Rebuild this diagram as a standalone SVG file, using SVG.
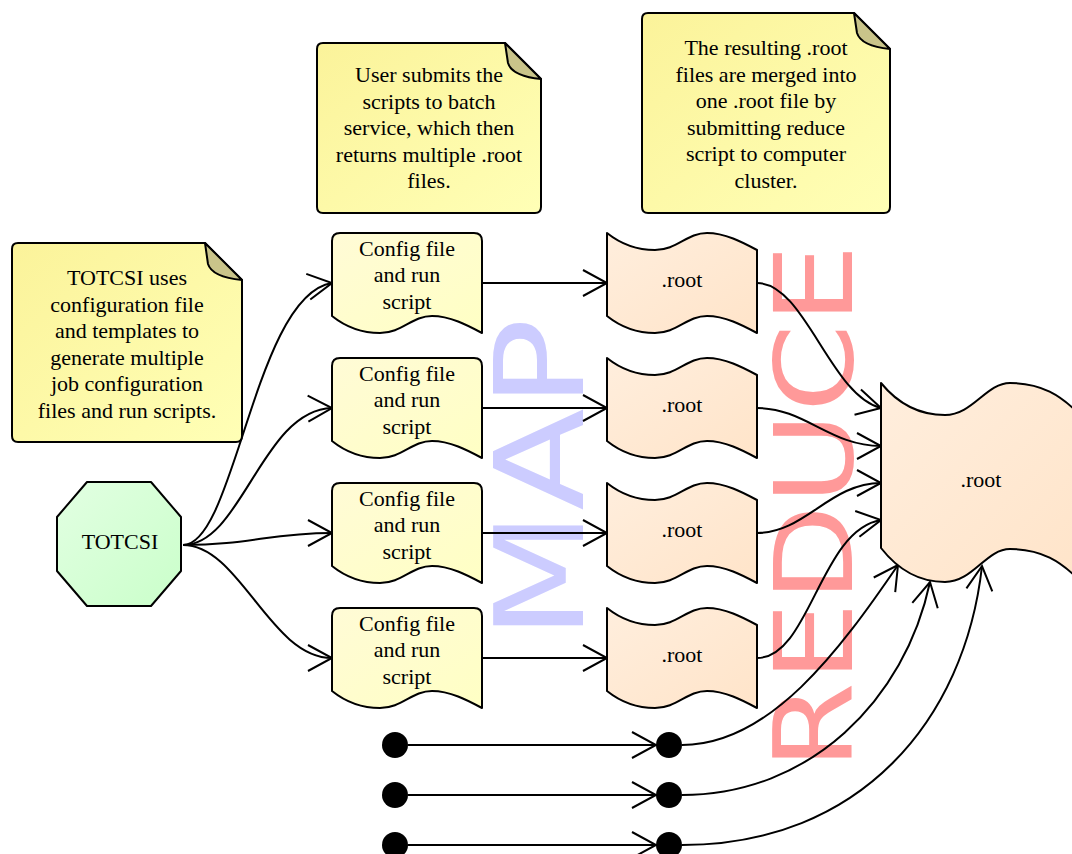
<svg xmlns="http://www.w3.org/2000/svg" xmlns:xlink="http://www.w3.org/1999/xlink" width="1072" height="854" viewBox="0 0 1072 854">
  <style>
    .t { font-family: "Liberation Serif", "Times New Roman", serif; font-size: 22px; text-anchor: middle; fill: #000; }
    .edge { fill: none; stroke: #000; stroke-width: 2; marker-end: url(#arrow); }
    .outline { stroke: #000; stroke-width: 2; stroke-linejoin: round; }
    .note { fill: url(#gNote); }
    .fold { fill: #c9c48a; stroke: #000; stroke-width: 2; stroke-linejoin: round; }
    .cfg { fill: url(#gCfg); }
    .root { fill: url(#gRoot); }
    .dot { fill: #000; }
    .phase { font-family: "DejaVu Sans", "Liberation Sans", sans-serif; }
  </style>
  <defs>
    <linearGradient id="gNote" x1="0" y1="0" x2="1" y2="1">
      <stop offset="0" stop-color="#fbf39a"/>
      <stop offset="1" stop-color="#ffffb6"/>
    </linearGradient>
    <linearGradient id="gCfg" x1="0" y1="0" x2="1" y2="1">
      <stop offset="0" stop-color="#fffbd6"/>
      <stop offset="1" stop-color="#ffffc4"/>
    </linearGradient>
    <linearGradient id="gRoot" x1="0" y1="0" x2="1" y2="1">
      <stop offset="0" stop-color="#ffeedd"/>
      <stop offset="1" stop-color="#ffe4c9"/>
    </linearGradient>
    <linearGradient id="gStart" x1="0" y1="0" x2="1" y2="1">
      <stop offset="0" stop-color="#e2ffe2"/>
      <stop offset="1" stop-color="#caffca"/>
    </linearGradient>
    <marker id="arrow" markerUnits="userSpaceOnUse" markerWidth="30" markerHeight="30" refX="25" refY="15" orient="auto" overflow="visible">
      <path d="M1,2 L25,15 L1,28" fill="none" stroke="#000" stroke-width="2"/>
    </marker>
    <!-- document shape: rounded top, wavy bottom -->
    <path id="cfgShape" d="M0,83 L0,8 Q0,0 8,0 L142,0 Q150,0 150,8 L150,100 C135,92 118,83 100,83 C80,83 70,100 48,100 C30,100 15,95 0,83 Z"/>
    <!-- data file shape: wavy top and bottom -->
    <path id="rootShape" d="M0,0 C15,12 30,17 48,17 C70,17 80,0 100,0 C118,0 135,9 150,17 L150,100 C135,92 118,83 100,83 C80,83 70,100 48,100 C30,100 15,95 0,83 Z"/>
  </defs>

  <!-- phase labels -->
  <g id="phases">
    <text class="phase" transform="translate(583,640) rotate(-90)" font-size="123" fill="#ccccff" textLength="322" lengthAdjust="spacingAndGlyphs">MAP</text>
    <text class="phase" transform="translate(852,770) rotate(-90)" font-size="108" fill="#ff9999" textLength="526" lengthAdjust="spacingAndGlyphs">REDUCE</text>
  </g>

  <!-- connectors -->
  <g id="connectors">
    <path class="edge" d="M183,545 C235,545 255,295 332,283"/>
    <path class="edge" d="M183,545 C242,545 262,410 332,408"/>
    <path class="edge" d="M183,545 C250,545 270,533 332,533"/>
    <path class="edge" d="M183,545 C240,545 270,658 332,658"/>

    <path class="edge" d="M482,283 L607,283"/>
    <path class="edge" d="M482,408 L607,408"/>
    <path class="edge" d="M482,533 L607,533"/>
    <path class="edge" d="M482,658 L607,658"/>

    <path class="edge" d="M757,283 C805,283 830,395 881,408"/>
    <path class="edge" d="M757,408 C805,408 830,446 881,446"/>
    <path class="edge" d="M757,533 C805,533 830,483 881,483"/>
    <path class="edge" d="M757,658 C810,658 820,530 881,520"/>

    <path class="edge" d="M408,745 L656,745"/>
    <path class="edge" d="M408,795 L656,795"/>
    <path class="edge" d="M408,845 L656,845"/>

    <path class="edge" d="M682,745 C770,745 840,650 898,565"/>
    <path class="edge" d="M682,795 C810,795 905,700 930,582"/>
    <path class="edge" d="M682,845 C860,845 965,720 982,566"/>
  </g>

  <!-- notes -->
  <g id="note-generate">
    <path class="note outline" d="M18,243 L205,243 L242,280 L242,436 Q242,442 236,442 L18,442 Q12,442 12,436 L12,249 Q12,243 18,243 Z"/>
    <path class="fold" d="M205,243 L208,264 Q212,277 242,280 Z"/>
    <text class="t" x="127" y="285">TOTCSI uses</text>
    <text class="t" x="127" y="311.5">configuration file</text>
    <text class="t" x="127" y="338">and templates to</text>
    <text class="t" x="127" y="364.5">generate multiple</text>
    <text class="t" x="127" y="391">job configuration</text>
    <text class="t" x="127" y="417.5">files and run scripts.</text>
  </g>
  <g id="note-submit">
    <path class="note outline" d="M323,43 L505,43 L541,79 L541,207 Q541,213 535,213 L323,213 Q317,213 317,207 L317,49 Q317,43 323,43 Z"/>
    <path class="fold" d="M505,43 L508,63 Q512,76 541,79 Z"/>
    <text class="t" x="429" y="82">User submits the</text>
    <text class="t" x="429" y="108.5">scripts to batch</text>
    <text class="t" x="429" y="135">service, which then</text>
    <text class="t" x="429" y="161.5">returns multiple .root</text>
    <text class="t" x="429" y="188">files.</text>
  </g>
  <g id="note-reduce">
    <path class="note outline" d="M648,13 L854,13 L890,49 L890,207 Q890,213 884,213 L648,213 Q642,213 642,207 L642,19 Q642,13 648,13 Z"/>
    <path class="fold" d="M854,13 L857,33 Q861,46 890,49 Z"/>
    <text class="t" x="766" y="55">The resulting .root</text>
    <text class="t" x="766" y="81.5">files are merged into</text>
    <text class="t" x="766" y="108">one .root file by</text>
    <text class="t" x="766" y="134.5">submitting reduce</text>
    <text class="t" x="766" y="161">script to computer</text>
    <text class="t" x="766" y="187.5">cluster.</text>
  </g>

  <!-- start node -->
  <g id="totcsi">
    <polygon points="87,482 151,482 181,517 181,571 151,606 87,606 57,571 57,517" fill="url(#gStart)" class="outline"/>
    <text class="t" x="120" y="549">TOTCSI</text>
  </g>

  <!-- job configuration files -->
  <g id="cfg1" transform="translate(332,233)">
    <use xlink:href="#cfgShape" class="cfg outline"/>
    <text class="t" x="75" y="22.5">Config file</text>
    <text class="t" x="75" y="49">and run</text>
    <text class="t" x="75" y="75.5">script</text>
  </g>
  <g id="cfg2" transform="translate(332,358)">
    <use xlink:href="#cfgShape" class="cfg outline"/>
    <text class="t" x="75" y="22.5">Config file</text>
    <text class="t" x="75" y="49">and run</text>
    <text class="t" x="75" y="75.5">script</text>
  </g>
  <g id="cfg3" transform="translate(332,483)">
    <use xlink:href="#cfgShape" class="cfg outline"/>
    <text class="t" x="75" y="22.5">Config file</text>
    <text class="t" x="75" y="49">and run</text>
    <text class="t" x="75" y="75.5">script</text>
  </g>
  <g id="cfg4" transform="translate(332,608)">
    <use xlink:href="#cfgShape" class="cfg outline"/>
    <text class="t" x="75" y="22.5">Config file</text>
    <text class="t" x="75" y="49">and run</text>
    <text class="t" x="75" y="75.5">script</text>
  </g>

  <!-- map outputs -->
  <g id="root1" transform="translate(607,233)">
    <use xlink:href="#rootShape" class="root outline"/>
    <text class="t" x="75" y="54">.root</text>
  </g>
  <g id="root2" transform="translate(607,358)">
    <use xlink:href="#rootShape" class="root outline"/>
    <text class="t" x="75" y="54">.root</text>
  </g>
  <g id="root3" transform="translate(607,483)">
    <use xlink:href="#rootShape" class="root outline"/>
    <text class="t" x="75" y="54">.root</text>
  </g>
  <g id="root4" transform="translate(607,608)">
    <use xlink:href="#rootShape" class="root outline"/>
    <text class="t" x="75" y="54">.root</text>
  </g>

  <!-- merged output -->
  <g id="merged" transform="translate(881,383)">
    <path class="root outline" d="M0,0 C18,22 40,32 64,32 C92,32 105,0 129,0 C160,0 180,12 200,33 L200,199 C180,178 160,166 129,166 C105,166 92,199 64,199 C40,199 18,188 0,165 Z"/>
    <text class="t" x="100" y="104">.root</text>
  </g>

  <!-- further jobs -->
  <g id="src1"><circle class="dot" cx="395" cy="745" r="13"/></g>
  <g id="src2"><circle class="dot" cx="395" cy="795" r="13"/></g>
  <g id="src3"><circle class="dot" cx="395" cy="845" r="13"/></g>
  <g id="out1"><circle class="dot" cx="669" cy="745" r="13"/></g>
  <g id="out2"><circle class="dot" cx="669" cy="795" r="13"/></g>
  <g id="out3"><circle class="dot" cx="669" cy="845" r="13"/></g>
</svg>
